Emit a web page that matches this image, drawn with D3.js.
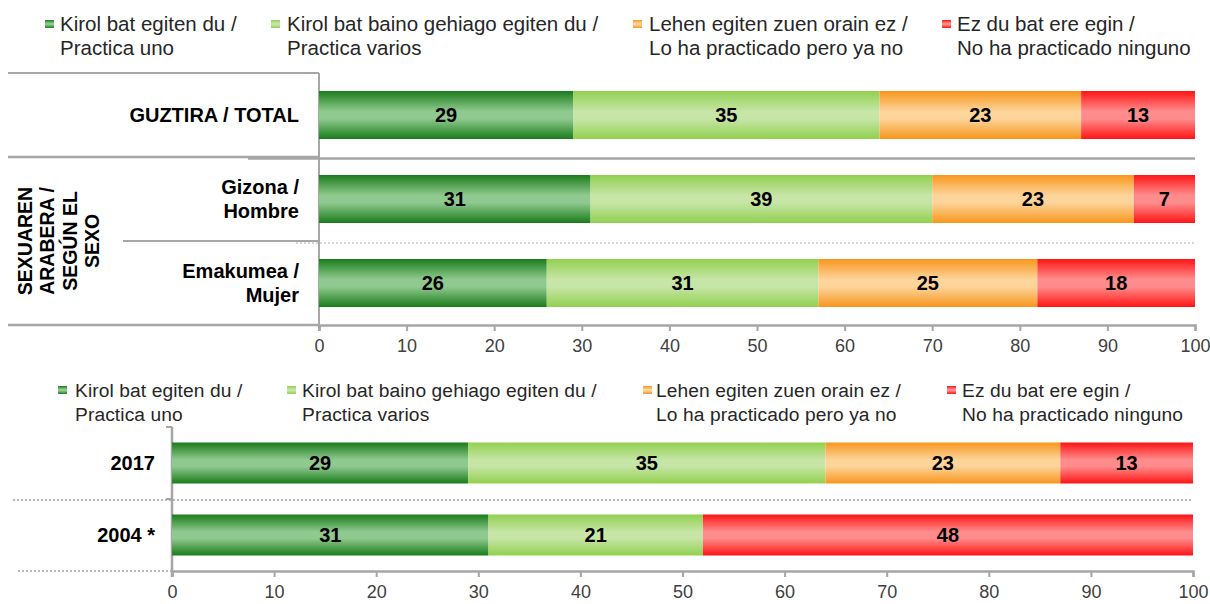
<!DOCTYPE html>
<html>
<head>
<meta charset="utf-8">
<script src="https://cdn.jsdelivr.net/npm/d3@7"></script>
<style>
  body { margin: 0; background: #fff; }
  svg { display: block; font-family: "Liberation Sans", Arial, sans-serif; }
</style>
</head>
<body>
<svg id="main-canvas" width="1210" height="604"></svg>
<script>
// series (legend) labels, two lines each
var seriesLines = [
    ["Kirol bat egiten du /", "Practica uno"],
    ["Kirol bat baino gehiago egiten du /", "Practica varios"],
    ["Lehen egiten zuen orain ez /", "Lo ha practicado pero ya no"],
    ["Ez du bat ere egin /", "No ha practicado ninguno"]
]

// top chart: total and by sex
var topCategories = [["GUZTIRA / TOTAL"], ["Gizona /", "Hombre"], ["Emakumea /", "Mujer"]]
var topUno      = [29, 31, 26]
var topVarios   = [35, 39, 31]
var topYaNo     = [23, 23, 25]
var topNinguno  = [13, 7, 18]
var groupLabel  = ["SEXUAREN", "ARABERA /", "SEGÚN EL", "SEXO"]

// bottom chart: evolution
var botCategories = [["2017"], ["2004 *"]]
var botUno      = [29, 31]
var botVarios   = [35, 21]
var botYaNo     = [23, 0]
var botNinguno  = [13, 48]

var xTicks = [0, 10, 20, 30, 40, 50, 60, 70, 80, 90, 100]

var colors = [
    { id: "g-uno",     edge: "#1a7c1a", mid: "#8fc98f" },
    { id: "g-varios",  edge: "#92d050", mid: "#c6e5a6" },
    { id: "g-yano",    edge: "#f8961d", mid: "#fdd49a" },
    { id: "g-ninguno", edge: "#ff1414", mid: "#ff8c8c" }
]

var svg = d3.select("#main-canvas")
var defs = svg.append("defs")
colors.forEach(function (c) {
    var g = defs.append("linearGradient")
                .attr("id", c.id)
                .attr("x1", 0).attr("y1", 0).attr("x2", 0).attr("y2", 1)
    g.append("stop").attr("offset", "0%").attr("stop-color", c.edge)
    g.append("stop").attr("offset", "42%").attr("stop-color", c.mid)
    g.append("stop").attr("offset", "58%").attr("stop-color", c.mid)
    g.append("stop").attr("offset", "100%").attr("stop-color", c.edge)
})

var axisColor = "#a6a6a6"
var textColor = "#262626"

function stackRows(series) {
    return series[0].map(function (_, i) {
        var acc = 0
        return series.map(function (s, k) {
            var seg = { k: k, v: s[i], x0: acc, x1: acc + s[i] }
            acc += s[i]
            return seg
        })
    })
}

// xs: marker left edges, tx: text left edges, base: first line baseline
function drawLegend(g, xs, tx, base, fontSize, spacing) {
    seriesLines.forEach(function (lines, k) {
        g.append("rect")
         .attr("x", xs[k]).attr("y", base - 11)
         .attr("width", 9).attr("height", 8)
         .attr("fill", "url(#" + colors[k].id + ")")
        g.append("text")
         .attr("fill", textColor)
         .attr("font-size", fontSize)
         .attr("letter-spacing", spacing)
         .selectAll("tspan").data(lines).enter().append("tspan")
         .attr("x", tx[k])
         .attr("y", function (d, i) { return base + i * 24 })
         .text(function (d) { return d })
    })
}

function drawBars(g, x, y, rows, barH) {
    rows.forEach(function (segs, i) {
        var cy = y(i) + y.bandwidth() / 2
        var shown = segs.filter(function (s) { return s.v > 0 })
        var row = g.append("g")
        row.selectAll("rect").data(shown).enter()
           .append("rect")
           .attr("x", function (s) { return x(s.x0) })
           .attr("y", cy - barH / 2)
           .attr("width", function (s) { return x(s.x1) - x(s.x0) })
           .attr("height", barH)
           .attr("fill", function (s) { return "url(#" + colors[s.k].id + ")" })
        row.selectAll("text").data(shown).enter()
           .append("text")
           .attr("x", function (s) { return (x(s.x0) + x(s.x1)) / 2 })
           .attr("y", cy + 7)
           .attr("text-anchor", "middle")
           .attr("font-size", 20)
           .attr("font-weight", "bold")
           .attr("fill", "#000")
           .text(function (s) { return s.v })
    })
}

function drawXAxis(g, x, yPos) {
    var ax = g.append("g")
              .attr("transform", "translate(0," + yPos + ")")
              .call(d3.axisBottom(x).tickValues(xTicks).tickSize(6).tickPadding(8).tickFormat(d3.format("d")))
    ax.select(".domain").attr("stroke", axisColor).attr("stroke-width", 2.5)
    ax.selectAll(".tick line").attr("stroke", axisColor).attr("stroke-width", 2)
    ax.selectAll(".tick text").attr("font-size", 18).attr("fill", "#404040")
       .attr("font-family", "'Liberation Sans', Arial, sans-serif")
    return ax
}

function catLabel(g, lines, xr, cy) {
    g.append("text")
     .attr("text-anchor", "end")
     .attr("font-size", 20)
     .attr("font-weight", "bold")
     .attr("fill", "#000")
     .selectAll("tspan").data(lines).enter().append("tspan")
     .attr("x", xr)
     .attr("y", function (d, i) { return cy + 7 - (lines.length - 1) * 12 + i * 24 })
     .text(function (d) { return d })
}

// ---------- top chart ----------
var topG = svg.append("g")
var xTop = d3.scaleLinear().domain([0, 100]).range([319, 1195])
var yTop = d3.scaleBand().domain(d3.range(topCategories.length)).range([73, 325])

drawLegend(topG, [45, 271, 633, 942], [60, 287, 649, 957], 31, 20.5, 0)

// label box and separators
topG.append("line").attr("x1", 8).attr("x2", xTop(0)).attr("y1", 73).attr("y2", 73)
    .attr("stroke", axisColor).attr("stroke-width", 2)
topG.append("line").attr("x1", 8).attr("x2", xTop(0)).attr("y1", yTop(1)).attr("y2", yTop(1))
    .attr("stroke", axisColor).attr("stroke-width", 2.5)
topG.append("line").attr("x1", 248).attr("x2", xTop(100)).attr("y1", yTop(1) + 1.5).attr("y2", yTop(1) + 1.5)
    .attr("stroke", axisColor).attr("stroke-width", 2.5)
topG.append("line").attr("x1", 123).attr("x2", xTop(0)).attr("y1", yTop(2)).attr("y2", yTop(2))
    .attr("stroke", axisColor).attr("stroke-width", 2)
topG.append("line").attr("x1", 296).attr("x2", xTop(100)).attr("y1", yTop(2) + 2).attr("y2", yTop(2) + 2)
    .attr("stroke", "#b0b0b0").attr("stroke-width", 1.2).attr("stroke-dasharray", "2,2")
topG.append("line").attr("x1", 8).attr("x2", xTop(0)).attr("y1", 325).attr("y2", 325)
    .attr("stroke", axisColor).attr("stroke-width", 2.5)
topG.append("line").attr("x1", xTop(0)).attr("x2", xTop(0)).attr("y1", 73).attr("y2", 331)
    .attr("stroke", axisColor).attr("stroke-width", 2)

drawBars(topG, xTop, yTop, stackRows([topUno, topVarios, topYaNo, topNinguno]), 48)
drawXAxis(topG, xTop, 325)

topCategories.forEach(function (lines, i) {
    catLabel(topG, lines, 299, yTop(i) + yTop.bandwidth() / 2)
})

// vertical group label
topG.append("text")
    .attr("transform", "translate(0," + yTop(2) + ") rotate(-90)")
    .attr("text-anchor", "middle")
    .attr("font-size", 19.5)
    .attr("font-weight", "bold")
    .attr("fill", "#000")
    .selectAll("tspan").data(groupLabel).enter().append("tspan")
    .attr("x", 0).attr("y", function (d, i) { return 32 + i * 22.3 })
    .text(function (d) { return d })

// ---------- bottom chart ----------
var botG = svg.append("g")
var xBot = d3.scaleLinear().domain([0, 100]).range([172, 1193])
var yBot = d3.scaleBand().domain(d3.range(botCategories.length)).range([427, 571])

drawLegend(botG, [58, 287, 643, 947], [75, 302, 656, 962], 397, 19.2, 0.1)

botG.append("line").attr("x1", 13).attr("x2", xBot(100)).attr("y1", yBot(1) + 1).attr("y2", yBot(1) + 1)
    .attr("stroke", "#a0a0a0").attr("stroke-width", 1.5).attr("stroke-dasharray", "2,2")
botG.append("line").attr("x1", 18).attr("x2", xBot(0)).attr("y1", 571).attr("y2", 571)
    .attr("stroke", "#a0a0a0").attr("stroke-width", 1.5).attr("stroke-dasharray", "2,2")
botG.append("line").attr("x1", xBot(0) - 6).attr("x2", xBot(0)).attr("y1", 427).attr("y2", 427)
    .attr("stroke", axisColor).attr("stroke-width", 2)
botG.append("line").attr("x1", xBot(0) - 6).attr("x2", xBot(0)).attr("y1", yBot(1)).attr("y2", yBot(1))
    .attr("stroke", axisColor).attr("stroke-width", 2)
botG.append("line").attr("x1", xBot(0)).attr("x2", xBot(0)).attr("y1", 427).attr("y2", 577)
    .attr("stroke", axisColor).attr("stroke-width", 2.5)

drawBars(botG, xBot, yBot, stackRows([botUno, botVarios, botYaNo, botNinguno]), 41)
drawXAxis(botG, xBot, 571)

botCategories.forEach(function (lines, i) {
    catLabel(botG, lines, 155, yBot(i) + yBot.bandwidth() / 2)
})
</script>
</body>
</html>
